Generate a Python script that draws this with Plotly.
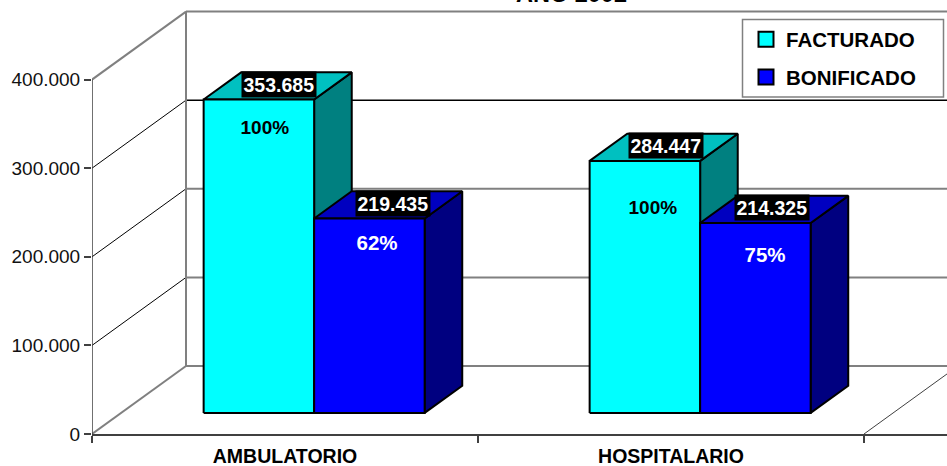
import plotly.graph_objects as go

categories = ["AMBULATORIO", "HOSPITALARIO"]
facturado = [353685, 284447]
bonificado = [219435, 214325]
facturado_pct = ["100%", "100%"]
bonificado_pct = ["62%", "75%"]
y_ticks = [0, 100000, 200000, 300000, 400000]
y_tick_labels = ["0", "100.000", "200.000", "300.000", "400.000"]

# label nudges in pixels, relative to the top front edge of each bar
fact_label_dx = [20, 21]
bon_label_dx = [24, 17]
fact_pct_dx = [6, 8]
fact_pct_dy = [27.5, 46]
bon_pct_dx = [8, 10]
bon_pct_dy = [23.5, 31]

FONT = "Liberation Sans, Arial, sans-serif"
W, H = 947, 466
L, B = 92, 32
PW, PH = W - L, H - B
PX_X = 386.0              # pixels per category
PX_Y = 88.6 / 100000.0    # pixels per value unit
DX = 94 / PX_X            # full floor depth, x units
DY = 68 / PX_Y            # full floor depth, y units
BAR_W = 110.5 / PX_X
BAR_D0 = 0.31
BAR_D = 0.40
X_END = (W - L + 100) / PX_X

fig = go.Figure()


def line(xs, ys, color, width):
    fig.add_trace(go.Scatter(x=xs, y=ys, mode="lines", showlegend=False, hoverinfo="skip",
                             line=dict(color=color, width=width)))


def poly(xs, ys, fill):
    fig.add_trace(go.Scatter(x=xs + xs[:1], y=ys + ys[:1], mode="lines", fill="toself",
                             fillcolor=fill, showlegend=False, hoverinfo="skip",
                             line=dict(color="black", width=2)))


GRAY, BLACK = "#808080", "#000000"
diag_styles = [(GRAY, 2), (BLACK, 1), (BLACK, 1), (BLACK, 1), (GRAY, 2)]
back_styles = [(GRAY, 2), (GRAY, 2), (GRAY, 2), (BLACK, 1.5), (GRAY, 2)]

for v, d, b in zip(y_ticks, diag_styles, back_styles):
    line([0, DX], [v, v + DY], d[0], d[1])
    line([DX, X_END], [v + DY, v + DY], b[0], b[1])
line([DX, DX], [DY, 400000 + DY], GRAY, 2)
line([0, 0], [0, 400000], "#404040", 1.5)
line([2, 2 + DX], [0, DY], "#404040", 1)


def bar3d(x0, value, front, top, side):
    x1 = x0 + BAR_W
    y0 = BAR_D0 * DY
    y1 = y0 + value
    ox, oy = BAR_D * DX, BAR_D * DY
    poly([x1, x1 + ox, x1 + ox, x1], [y0, y0 + oy, y1 + oy, y1], side)
    poly([x0, x1, x1 + ox, x0 + ox], [y1, y1, y1 + oy, y1 + oy], top)
    poly([x0, x1, x1, x0], [y0, y0, y1, y1], front)
    return y1


annotations = []


def label(x, y, text, color, dx=0, dy=0, bg=None, size=19.5, pad=1.5):
    annotations.append(dict(x=x, y=y, xref="x", yref="y", text=f"<b>{text}</b>", showarrow=False,
                            xshift=dx, yshift=dy, font=dict(family=FONT, size=size, color=color),
                            bgcolor=bg, borderpad=pad, xanchor="center", yanchor="middle"))


for i in range(len(categories)):
    cx = i + 0.5 + BAR_D0 * DX
    y_f = bar3d(cx - BAR_W, facturado[i], "#00FFFF", "#00C0C0", "#008080")
    y_b = bar3d(cx, bonificado[i], "#0000FF", "#0000C0", "#000080")
    xf, xb = cx - BAR_W / 2, cx + BAR_W / 2
    label(xf, y_f, f"{facturado[i] / 1000:.3f}", "white", fact_label_dx[i], 15.5, "black")
    label(xb, y_b, f"{bonificado[i] / 1000:.3f}", "white", bon_label_dx[i], 15.5, "black")
    label(xf, y_f, facturado_pct[i], "black", fact_pct_dx[i], -fact_pct_dy[i], size=19)
    label(xb, y_b, bonificado_pct[i], "white", bon_pct_dx[i], -bon_pct_dy[i], size=20.5)

for name, color in [("FACTURADO", "#00FFFF"), ("BONIFICADO", "#0000FF")]:
    fig.add_trace(go.Scatter(x=[None], y=[None], mode="markers", name=name, legendgroup=name,
                             marker=dict(symbol="square", size=15, color=color,
                                         line=dict(color="black", width=2))))

fig.update_layout(
    width=W, height=H,
    margin=dict(l=L, r=0, t=0, b=B, pad=0),
    paper_bgcolor="white", plot_bgcolor="white",
    font=dict(family=FONT, color="black"),
    title=dict(text="<b>AÑO 2002</b>", x=571.5 / W, xanchor="center", xref="container",
               y=0.995, yanchor="bottom", font=dict(family=FONT, size=23.5, color="black")),
    xaxis=dict(range=[0, PW / PX_X], tickvals=[0.5, 1.5], ticktext=categories,
               ticks="", showgrid=False, zeroline=False, showline=True, linecolor="#404040",
               linewidth=1.5, ticklabelstandoff=4,
               tickfont=dict(family=FONT, size=19.5, color="black", weight="bold"),
               minor=dict(tickvals=[0, 1, 2], ticks="outside", ticklen=7, tickcolor="#404040",
                          tickwidth=1.5, showgrid=False)),
    yaxis=dict(range=[0, PH / PX_Y], tickvals=y_ticks, ticktext=y_tick_labels,
               ticks="outside", ticklen=7, tickcolor="#404040", tickwidth=1.5, showgrid=False,
               zeroline=False, showline=False, tickfont=dict(family=FONT, size=19, color="#111111")),
    legend=dict(x=(746 - L) / PW, xanchor="left", y=1 - 19.5 / PH, yanchor="top",
                bgcolor="rgba(0,0,0,0)", borderwidth=0,
                font=dict(family=FONT, size=20.5, color="black", weight="bold"),
                tracegroupgap=8, itemsizing="trace"),
    shapes=[dict(type="rect", xref="paper", yref="paper", layer="above",
                 x0=(742.5 - L) / PW, x1=(943.5 - L) / PW,
                 y0=1 - 97 / PH, y1=1 - 19.5 / PH,
                 fillcolor="white", line=dict(color="#808080", width=1.5))],
    annotations=annotations,
)

fig.write_html("out.html", config=dict(displayModeBar=False),
               post_script="document.body.style.margin='0';document.body.style.overflow='hidden';")
